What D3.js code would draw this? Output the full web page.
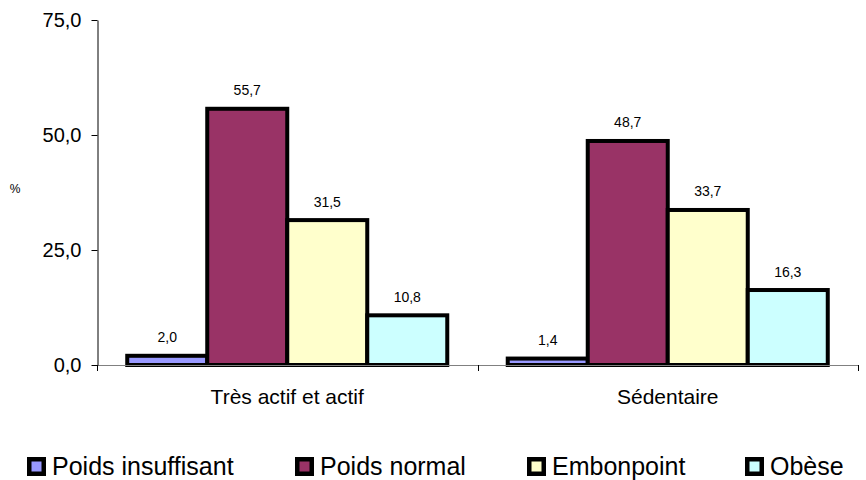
<!DOCTYPE html>
<html>
<head>
<meta charset="utf-8">
<script src="https://cdn.jsdelivr.net/npm/d3@7"></script>
<style>
html,body{margin:0;padding:0;background:#fff;}
svg{display:block;font-family:"Liberation Sans",Arial,sans-serif;}
</style>
</head>
<body>
<svg id="chart" width="866" height="480"></svg>
<script>
const categories = ["Très actif et actif", "Sédentaire"];
const seriesNames = ["Poids insuffisant", "Poids normal", "Embonpoint", "Obèse"];
const seriesColors = ["#9999FF", "#993366", "#FFFFCC", "#CCFFFF"];
const poidsInsuffisant = [2.0, 1.4];
const poidsNormal = [55.7, 48.7];
const embonpoint = [31.5, 33.7];
const obese = [10.8, 16.3];
const yTicks = [0, 25, 50, 75];
const seriesValues = [poidsInsuffisant, poidsNormal, embonpoint, obese];

(function () {
const fmt = v => d3.format(".1f")(v).replace(".", ",");

const svg = d3.select("#chart");
const mLeft = 97, mRight = 858, mTop = 20, mBottom = 365;

const x0 = d3.scaleBand().domain(categories).range([mLeft, mRight]).paddingInner(0).paddingOuter(0);
const x1 = d3.scaleBand().domain(seriesNames).range([0, x0.bandwidth()]).paddingInner(0).paddingOuter(0.378);
const y = d3.scaleLinear().domain([0, 75]).range([mBottom, mTop]);

// bars
categories.forEach((cat, ci) => {
  const g = svg.append("g").attr("transform", `translate(${x0(cat)},0)`);
  seriesNames.forEach((s, si) => {
    const v = seriesValues[si][ci];
    g.append("rect")
      .attr("x", x1(s))
      .attr("y", y(v))
      .attr("width", x1.bandwidth())
      .attr("height", y(0) - y(v))
      .attr("fill", seriesColors[si])
      .attr("stroke", "#000")
      .attr("stroke-width", 4);
  });
});

// x axis
const xAxis = svg.append("g").attr("transform", `translate(0,${mBottom})`);
xAxis.append("line").attr("x1", mLeft).attr("x2", mRight).attr("y1", 0.5).attr("y2", 0.5)
  .attr("stroke", "#808080").attr("stroke-width", 1);
const bounds = [mLeft].concat(categories.map(c => x0(c) + x0.bandwidth()));
bounds.forEach(b => {
  xAxis.append("line").attr("x1", Math.round(b) + 0.5).attr("x2", Math.round(b) + 0.5)
    .attr("y1", 0).attr("y2", 6).attr("stroke", "#000").attr("stroke-width", 1);
});
categories.forEach(c => {
  xAxis.append("text").attr("x", x0(c) + x0.bandwidth() / 2).attr("y", 39)
    .attr("text-anchor", "middle").attr("font-size", 21).attr("fill", "#000").text(c);
});

// y axis
const yAxis = svg.append("g").attr("transform", `translate(${mLeft + 0.5},0)`)
  .call(d3.axisLeft(y).tickValues(yTicks).tickFormat(fmt).tickSizeOuter(0).tickSizeInner(6).tickPadding(10));
yAxis.select(".domain").attr("stroke", "#000");
yAxis.selectAll(".tick line").attr("stroke", "#000");
yAxis.selectAll(".tick text").attr("font-size", 20).attr("font-family", "Liberation Sans, Arial, sans-serif").attr("fill", "#000");

// % label
svg.append("text").attr("x", 15).attr("y", 193).attr("text-anchor", "middle")
  .attr("font-size", 12).attr("fill", "#000").text("%");

// value labels
categories.forEach((cat, ci) => {
  seriesNames.forEach((s, si) => {
    const v = seriesValues[si][ci];
    svg.append("text")
      .attr("x", x0(cat) + x1(s) + x1.bandwidth() / 2)
      .attr("y", y(v) - 13.5)
      .attr("text-anchor", "middle")
      .attr("font-size", 14)
      .attr("fill", "#000")
      .text(fmt(v));
  });
});

// legend
const legendX = [27, 295, 527, 745];
seriesNames.forEach((s, i) => {
  const g = svg.append("g").attr("transform", `translate(${legendX[i]},457)`);
  g.append("rect").attr("x", 0).attr("y", 0).attr("width", 19).attr("height", 19).attr("fill", "#000");
  g.append("rect").attr("x", 4.5).attr("y", 4.5).attr("width", 10).attr("height", 10).attr("fill", seriesColors[i]);
  g.append("text").attr("x", 25).attr("y", 18).attr("font-size", 25).attr("fill", "#000").text(s);
});
})();
</script>
</body>
</html>
